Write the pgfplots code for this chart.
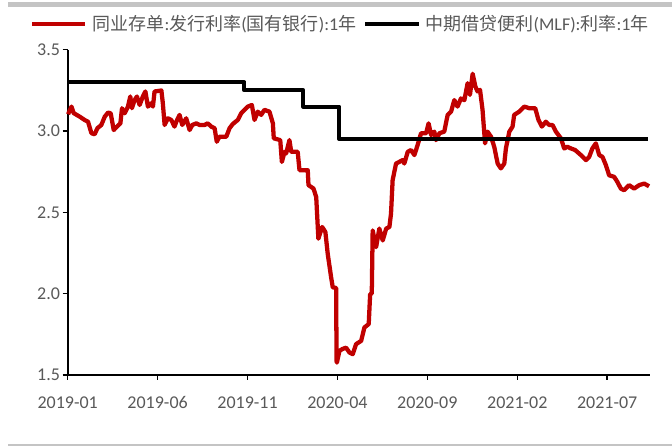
\documentclass[border=0pt]{standalone}
\usepackage{fontspec}
\setmainfont{Carlito}
\newfontfamily\cjk{Noto Sans CJK SC}
\newcommand{\zh}[1]{{\cjk #1}}
\usepackage{pgfplots}
\pgfplotsset{compat=1.18}
\definecolor{cdred}{HTML}{C00000}
\definecolor{lblgray}{HTML}{595959}
\definecolor{rulegray}{HTML}{C4C4C4}
\begin{document}
\begin{tikzpicture}
\useasboundingbox (0pt,0pt) rectangle (504pt,334.5pt);
\begin{axis}[
  at={(50.78pt,53.25pt)}, anchor=south west,
  scale only axis, width=436.95pt, height=244pt,
  xmin=0, xmax=32.4, ymin=1.5, ymax=3.5,
  axis lines=left,
  axis line style={-, line width=1.5pt, black},
  xtick={0,5,10,15,20,25,30},
  xticklabels={2019-01,2019-06,2019-11,2020-04,2020-09,2021-02,2021-07},
  ytick={1.5,2.0,2.5,3.0,3.5},
  yticklabel style={xshift=1.5pt, /pgf/number format/fixed, /pgf/number format/fixed zerofill, /pgf/number format/precision=1},
  xticklabel style={yshift=-9pt},
  /pgf/number format/assume math mode=true,
  tick align=outside,
  major tick length=3.75pt,
  tick style={line width=1.1pt, black},
  ticklabel style={font=\fontsize{13.5}{15}\selectfont, text=lblgray},
  clip=false,
  legend columns=2,
  legend style={at={(axis description cs:-0.0647,1.079)}, anchor=west,
    draw=none, fill=none, inner sep=0pt, outer sep=0pt,
    nodes={inner sep=0pt, text=lblgray},
    font=\fontsize{13.5}{16}\selectfont,
    /tikz/every odd column/.append style={column sep=3.75pt},
    /tikz/every even column/.append style={column sep=5.25pt}},
  legend image code/.code={\draw[#1] (0pt,0pt) -- (40pt,0pt);},
]
\addplot[cdred, line width=3.2pt, line join=round] coordinates {
(0.02,3.103)(0.21,3.15)(0.33,3.11)(0.67,3.088)(0.94,3.068)(1.13,3.057)(1.32,2.986)(1.5,2.98)
(1.65,3.017)(1.87,3.037)(2.06,3.088)(2.24,3.113)(2.39,3.109)(2.56,3.006)(2.74,3.027)(2.93,3.047)
(3.02,3.14)(3.17,3.109)(3.35,3.15)(3.48,3.212)(3.57,3.14)(3.72,3.19)(3.85,3.212)(4.0,3.16)
(4.18,3.212)(4.32,3.243)(4.46,3.15)(4.65,3.171)(4.74,3.15)(4.83,3.243)(5.21,3.249)(5.29,3.171)
(5.39,3.037)(5.57,3.078)(5.76,3.068)(5.94,3.027)(6.04,3.057)(6.22,3.099)(6.37,3.037)(6.59,3.078)
(6.78,3.006)(6.93,3.037)(7.15,3.047)(7.33,3.037)(7.61,3.037)(7.79,3.047)(7.98,3.027)(8.17,3.017)
(8.29,2.934)(8.44,2.965)(8.82,2.965)(9.0,3.017)(9.18,3.043)(9.46,3.068)(9.65,3.109)(9.83,3.13)
(10.02,3.15)(10.24,3.16)(10.39,3.068)(10.57,3.119)(10.76,3.099)(10.94,3.13)(11.22,3.119)(11.41,3.047)
(11.46,2.955)(11.82,2.944)(11.91,2.81)(12.06,2.872)(12.15,2.862)(12.33,2.944)(12.43,2.872)(12.79,2.872)
(12.89,2.759)(13.35,2.759)(13.39,2.667)(13.54,2.656)(13.67,2.646)(13.82,2.594)(13.94,2.338)(14.15,2.41)
(14.33,2.379)(14.46,2.245)(14.65,2.10)(14.74,2.039)(14.93,2.035)(14.95,1.586)(14.97,1.576)(15.11,1.648)
(15.28,1.66)(15.48,1.668)(15.67,1.638)(15.85,1.628)(16.04,1.69)(16.32,1.71)(16.5,1.792)(16.74,1.813)
(16.82,1.998)(16.91,2.0)(16.96,2.389)(17.15,2.286)(17.33,2.40)(17.52,2.327)(17.71,2.40)(17.89,2.41)
(17.98,2.492)(18.07,2.698)(18.26,2.80)(18.63,2.821)(18.72,2.80)(18.91,2.872)(19.09,2.883)(19.28,2.852)
(19.46,2.914)(19.65,2.986)(19.93,2.986)(20.07,3.047)(20.21,2.975)(20.39,2.996)(20.48,2.944)(20.67,2.986)
(20.94,2.996)(21.13,3.099)(21.32,3.119)(21.5,3.19)(21.68,3.15)(21.87,3.20)(22.06,3.19)(22.24,3.294)
(22.37,3.222)(22.52,3.352)(22.67,3.274)(22.79,3.243)(22.93,3.253)(23.07,3.13)(23.21,2.924)(23.35,2.996)
(23.54,2.965)(23.72,2.903)(23.91,2.80)(24.09,2.77)(24.28,2.80)(24.37,2.893)(24.56,2.996)(24.74,3.027)
(24.83,3.099)(25.11,3.119)(25.39,3.15)(25.67,3.14)(26.0,3.14)(26.18,3.068)(26.37,3.027)(26.59,3.057)
(26.78,3.037)(26.96,3.037)(27.15,2.996)(27.43,2.955)(27.61,2.893)(27.79,2.903)(27.98,2.893)(28.22,2.883)
(28.54,2.852)(28.82,2.821)(29.0,2.841)(29.18,2.893)(29.37,2.924)(29.56,2.852)(29.74,2.841)(29.93,2.79)
(30.11,2.728)(30.39,2.718)(30.57,2.687)(30.76,2.646)(30.94,2.636)(31.22,2.667)(31.5,2.646)(31.78,2.667)
(32.06,2.677)(32.33,2.66)
};
\addlegendentry{\zh{同业存单}:\zh{发行利率}(\zh{国有银行}):1\zh{年}}
\addplot[black, line width=3pt, line join=round] coordinates {
(0,3.3)(9.83,3.3)(9.83,3.25)(13.1,3.25)(13.1,3.15)(15.1,3.15)(15.1,2.95)(32.28,2.95)
};
\addlegendentry{\zh{中期借贷便利}(MLF):\zh{利率}:1\zh{年}}
\end{axis}
\begin{scope}[x=0.75pt,y=0.75pt]
\draw[rulegray, line width=3.75pt] (8,441.5) -- (672,441.5);
\draw[rulegray, line width=1.1pt] (8,1) -- (672,1);
\end{scope}
\end{tikzpicture}
\end{document}
